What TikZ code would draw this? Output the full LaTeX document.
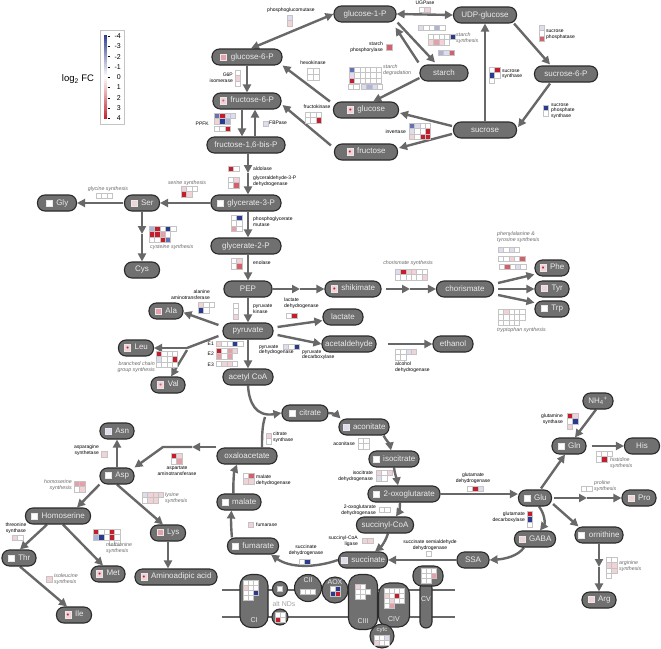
\documentclass[tikz,border=0pt]{standalone}
\usepackage{fontspec}
\setmainfont{Liberation Sans}
\usetikzlibrary{arrows.meta,calc}
\pgfdeclarelayer{bg}
\pgfsetlayers{bg,main}
\definecolor{nodefill}{HTML}{707070}
\definecolor{nodeline}{HTML}{2B2B2B}
\definecolor{arr}{HTML}{686868}
\definecolor{gridc}{HTML}{C4C4C4}
\definecolor{mkb}{HTML}{E8E8E8}
\definecolor{r1}{HTML}{F1D2D7}
\definecolor{r2}{HTML}{E4A1AA}
\definecolor{r3}{HTML}{D5606C}
\definecolor{r4}{HTML}{C41E2C}
\definecolor{b1}{HTML}{DCDDEE}
\definecolor{b2}{HTML}{AEB3D8}
\definecolor{b3}{HTML}{6670B3}
\definecolor{b4}{HTML}{2A3A8F}
\definecolor{itc}{HTML}{6A6A6A}
\newcommand\mk[1]{{\setlength{\fboxsep}{0pt}\setlength{\fboxrule}{1pt}\raisebox{-0.5pt}{\fcolorbox{mkb}{#1}{\rule{0pt}{5pt}\rule{5pt}{0pt}}}}\hspace{3.5pt}}
\newcommand\md[2]{{\setlength{\fboxsep}{0pt}\setlength{\fboxrule}{1pt}\raisebox{-0.5pt}{\fcolorbox{mkb}{#1}{\makebox[5pt][c]{\rule{0pt}{5pt}\raisebox{-0.4pt}{\textcolor{#2}{\fontsize{7.5}{7.5}\selectfont\textbullet}}}}}}\hspace{3.5pt}}
\newcommand\hm[4][5.4]{%
  \foreach \rw [count=\jj] in {#4}{%
    \foreach \cc [count=\ii] in \rw {%
      \path[hc/\cc] ({#2+(\ii-1)*#1},{#3+(\jj-1)*#1}) rectangle ++(#1,#1);
    }}}
\tikzset{
  metab/.style={rounded corners=7.5pt, fill=nodefill, draw=nodeline, line width=1.1pt, minimum height=16pt, inner sep=1pt, text=white!92!black, font=\fontsize{8}{9}\selectfont},
  ar/.style={draw=arr, line width=2.4pt, -{Triangle[length=8pt,width=8pt]}},
  arb/.style={draw=arr, line width=2.4pt, {Triangle[length=8pt,width=8pt]}-{Triangle[length=8pt,width=8pt]}},
  ln/.style={draw=arr, line width=2.4pt},
  hcell/.style={draw=gridc, line width=0.5pt},
  hc/w/.style={hcell, fill=white},
  hc/r1/.style={hcell, fill=r1},
  hc/r2/.style={hcell, fill=r2},
  hc/r3/.style={hcell, fill=r3},
  hc/r4/.style={hcell, fill=r4},
  hc/b1/.style={hcell, fill=b1},
  hc/b2/.style={hcell, fill=b2},
  hc/b3/.style={hcell, fill=b3},
  hc/b4/.style={hcell, fill=b4},
  hc/n/.style={},
  lab/.style={font=\fontsize{5}{5.6}\selectfont, inner sep=0},
  itl/.style={font=\fontsize{5.3}{6}\selectfont\itshape, text=itc, inner sep=0},
  cpx/.style={fill=nodefill, draw=nodeline, line width=1.1pt, inner sep=0},
  ctext/.style={text=white!92!black, font=\fontsize{7}{7}\selectfont, inner sep=0},
}
\begin{document}
\begin{tikzpicture}[x=1pt,y=-1pt]
\begin{pgfonlayer}{bg}
\fill[white] (0,0) rectangle (661,648);
\end{pgfonlayer}
\useasboundingbox (0,0) rectangle (661,648);

% legend
\draw[gridc, line width=0.6pt] (100,30) rectangle (124,124);
\foreach \k in {0,...,19}{\pgfmathtruncatemacro\pc{100*(19.5-\k)/20}\fill[b4!\pc!white] (103.5,{35+\k*2.1}) rectangle ++(3.5,2.2);}
\foreach \k in {20,...,39}{\pgfmathtruncatemacro\pc{100*(\k-19.5)/20}\fill[r4!\pc!white] (103.5,{35+\k*2.1}) rectangle ++(3.5,2.2);}
\foreach \v [count=\i from 0] in {-4,-3,-2,-1,0,1,2,3,4}{
  \draw[black, line width=0.4pt] (107.5,{36+\i*10.3}) -- ++(2,0);
  \node[anchor=east, font=\fontsize{7}{7}\selectfont, inner sep=0] (tk\i) at (121,{36+\i*10.3}) {\v};}
\node[font=\fontsize{9.5}{10}\selectfont, inner sep=0] (lfc) at (78,79) {log\textsubscript{2} FC};

% metabolites
\node[metab,minimum width=62] (g1p) at (365,14) {glucose-1-P};
\node[metab,minimum width=63] (udpg) at (485,15) {UDP-glucose};
\node[metab,minimum width=70] (g6p) at (247,57) {\mk{r2}glucose-6-P};
\node[metab,minimum width=48] (starch) at (444,73) {starch};
\node[metab,minimum width=63] (s6p) at (566,74) {sucrose-6-P};
\node[metab,minimum width=68] (f6p) at (247,101) {\md{r1}{r3}fructose-6-P};
\node[metab,minimum width=65] (glc) at (366,110) {\md{r1}{r4}glucose};
\node[metab,minimum width=63] (suc) at (485,130) {sucrose};
\node[metab,minimum width=78] (f16bp) at (246,145) {fructose-1,6-bis-P};
\node[metab,minimum width=63] (fru) at (366,152) {\md{r1}{r4}fructose};
\node[metab,minimum width=70] (g3p) at (246,203) {\mk{white}glycerate-3-P};
\node[metab,minimum width=39] (gly) at (57,203) {\mk{white}Gly};
\node[metab,minimum width=35] (ser) at (142,203) {\mk{r1}Ser};
\node[metab,minimum width=35] (cys) at (142,270) {Cys};
\node[metab,minimum width=70] (g2p) at (246,246) {glycerate-2-P};
\node[metab,minimum width=48] (pep) at (248,289) {PEP};
\node[metab,minimum width=56] (shik) at (353,289) {\md{r1}{r4}shikimate};
\node[metab,minimum width=57] (chor) at (465,289) {chorismate};
\node[metab,minimum width=34] (phe) at (552,268) {\md{r1}{r4}Phe};
\node[metab,minimum width=34] (tyr) at (552,289) {\mk{r1}Tyr};
\node[metab,minimum width=34] (trp) at (552,309) {\mk{white}Trp};
\node[metab,minimum width=34] (ala) at (166,311) {\mk{r2}Ala};
\node[metab,minimum width=40] (lac) at (343,317) {lactate};
\node[metab,minimum width=50] (pyr) at (248,331) {pyruvate};
\node[metab,minimum width=35] (leu) at (136,348) {\md{r1}{r4}Leu};
\node[metab,minimum width=54] (acald) at (349,344) {acetaldehyde};
\node[metab,minimum width=40] (eth) at (453,344) {ethanol};
\node[metab,minimum width=50] (acoa) at (248,377) {acetyl CoA};
\node[metab,minimum width=34] (val) at (168,385) {\md{r1}{r3}Val};
\node[metab,minimum width=46] (cit) at (305,413) {\mk{white}citrate};
\node[metab,minimum width=50] (aco) at (364,427) {\mk{b1}aconitate};
\node[metab,minimum width=30] (nh4) at (598,401) {NH\textsubscript{4}\textsuperscript{+}};
\node[metab,minimum width=34] (asn) at (117,431) {\mk{b1}Asn};
\node[metab,minimum width=60] (oaa) at (247,456) {oxaloacetate};
\node[metab,minimum width=50] (iso) at (394,459) {\mk{white}isocitrate};
\node[metab,minimum width=34] (gln) at (569,446) {\mk{white}Gln};
\node[metab,minimum width=35] (his) at (642,446) {His};
\node[metab,minimum width=34] (asp) at (117,476) {\mk{white}Asp};
\node[metab,minimum width=72] (og) at (404,494) {\mk{white}2-oxoglutarate};
\node[metab,minimum width=33] (glu) at (535,498) {\mk{white}Glu};
\node[metab,minimum width=34] (pro) at (639,498) {\mk{r1}Pro};
\node[metab,minimum width=65] (hse) at (58,516) {\mk{white}Homoserine};
\node[metab,minimum width=35] (lys) at (168,533) {\mk{r2}Lys};
\node[metab,minimum width=44] (mal) at (239,502) {\mk{white}malate};
\node[metab,minimum width=57] (scoa) at (385,525) {succinyl-CoA};
\node[metab,minimum width=41] (gaba) at (535,539) {\mk{r1}GABA};
\node[metab,minimum width=48] (orn) at (599,535) {\mk{white}ornithine};
\node[metab,minimum width=34] (thr) at (19,558) {\mk{white}Thr};
\node[metab,minimum width=34] (metn) at (108,574) {\md{r1}{r4}Met};
\node[metab,minimum width=82] (aad) at (176,577) {\md{r1}{r4}Aminoadipic acid};
\node[metab,minimum width=51] (fum) at (253,546) {\mk{white}fumarate};
\node[metab,minimum width=32] (ssa) at (473,560) {SSA};
\node[metab,minimum width=49] (succ) at (363,560) {\mk{b1}succinate};
\node[metab,minimum width=35] (ile) at (74,615) {\md{r1}{r4}Ile};
\node[metab,minimum width=34] (arg) at (599,600) {\mk{r1}Arg};

% connectors
\begin{pgfonlayer}{bg}
\draw[arb] (g1p.west) -- (g6p.65);
\draw[arb] (g1p.east) -- (udpg.west);
\draw[ar] ($(g1p.south east)+(1,0)$) -- ($(starch.north)+(-9,-2)$);
\draw[ar] ($(starch.north west)+(-1,-2)$) -- ($(g1p.south east)+(-1,5)$);
\draw[ar] ($(starch.west)+(0,5)$) -- (glc.50);
\draw[ar] ($(udpg.south east)+(-3,0)$) -- ($(s6p.north)+(-16,-1)$);
\draw[ar] ($(s6p.south)+(-16,1)$) -- ($(suc.east)+(1,-3)$);
\draw[ar] (suc.north) -- (udpg.south);
\draw[ar] ($(suc.west)+(-1,-4)$) -- ($(glc.east)+(1,3)$);
\draw[ar] ($(suc.west)+(-1,4)$) -- ($(fru.east)+(1,-4)$);
\draw[ar] ($(glc.north west)+(-3,0)$) -- (g6p.south east);
\draw[ar] ($(fru.north west)+(-3,2)$) -- ($(f6p.east)+(1,4)$);
\draw[ar] (g6p.south) -- (f6p.north);
\draw[ar] ($(f6p.south)+(-5,0)$) -- ($(f16bp.north)+(-4,0)$);
\draw[ar] ($(f16bp.north)+(9,0)$) -- ($(f6p.south)+(8,0)$);
\coordinate (m1) at (248,173);
\draw[ar] ($(f16bp.south)+(2,0)$) -- (m1);
\draw[ar] (m1) -- ($(g3p.north)+(2,0)$);
\draw[ar] ($(g3p.south)+(2,0)$) -- ($(g2p.north)+(2,0)$);
\draw[ar] ($(g2p.south)+(2,0)$) -- (pep.north);
\coordinate (m2) at (300,289);
\draw[ar] (pep.east) -- (m2);
\draw[ar] (m2) -- (shik.west);
\coordinate (m3) at (410,289);
\draw[ar] ($(shik.east)+(4,0)$) -- (m3);
\draw[ar] (m3) -- (chor.west);
\draw[ar] ($(chor.east)+(4,-6)$) -- (phe.200);
\draw[ar] ($(chor.east)+(4,0)$) -- (tyr.west);
\draw[ar] ($(chor.east)+(4,6)$) -- (trp.160);
\draw[ar] (pep.south) -- (pyr.north);
\draw[ar] ($(pyr.east)+(4,-4)$) -- (lac.190);
\draw[ar] ($(pyr.east)+(4,4)$) -- (acald.west);
\draw[ar] ($(acald.east)+(11,0)$) -- (eth.west);
\draw[ar] (pyr.south) -- (acoa.north);
\draw[ar] ($(pyr.west)+(-4,-6)$) -- (ala.-5);
\coordinate (bp) at (187,348);
\draw[ln] ($(pyr.west)+(-4,5)$) -- (bp);
\draw[ar] (bp) -- (leu.east);
\draw[ar] ($(bp)+(0,2)$) -- (val.70);
\draw[ar] (g3p.west) -- (ser.east);
\draw[ar] ($(ser.west)+(-1,0)$) -- (gly.east);
\coordinate (m4) at (142,234);
\draw[ar] (ser.south) -- (m4);
\draw[ar] (m4) -- (cys.north);
% TCA
\draw[ar] (acoa.south) .. controls (249,403) and (256,417) .. (cit.west);
\coordinate (j1) at (265,417);
\draw[ln] ($(oaa.north)+(15,0)$) .. controls (262,438) and (262,426) .. (j1);
\draw[ar] (cit.east) .. controls (334,413) and (338,416) .. (aco.160);
\draw[ar] ($(aco.south east)+(-6,0)$) .. controls (386,440) and (390,445) .. ($(iso.north)+(-3,0)$);
\draw[ar] (iso.south) .. controls (395,475) and (397,480) .. ($(og.north)+(-6,0)$);
\draw[ar] ($(og.south)+(-4,0)$) .. controls (400,508) and (399,512) .. ($(scoa.north)+(11,0)$);
\draw[ar] ($(scoa.south)+(3,0)$) .. controls (386,540) and (382,546) .. ($(succ.north)+(12,0)$);
\draw[ar] (succ.west) .. controls (315,568) and (290,568) .. ($(fum.south east)+(-8,0)$);
\draw[ar] ($(fum.north west)+(5,0)$) .. controls (231,528) and (231,518) .. ($(mal.south west)+(15,0)$);
\draw[ar] ($(mal.north west)+(17,0)$) .. controls (233,485) and (234,472) .. ($(oaa.south)+(-10,0)$);
% nitrogen
\draw[ar] (og.east) -- (og.east -| glu.west);
\draw[ar] ($(glu.north)+(6,-1)$) -- ($(gln.south)+(-4,0)$);
\draw[ar] ($(nh4.south)+(-2,0)$) -- (gln.55);
\draw[ar] ($(gln.east)+(5,0)$) -- (his.west);
\coordinate (m5) at (587,498);
\draw[ar] ($(glu.east)+(2,0)$) -- (m5);
\draw[ar] (m5) -- (pro.west);
\draw[ar] ($(glu.east)+(1,6)$) -- ($(orn.north west)+(4,0)$);
\coordinate (m6) at (599,567);
\draw[ar] (orn.south) -- (m6);
\draw[ar] (m6) -- (arg.north);
\draw[ar] ($(glu.south)+(4,0)$) .. controls (545,514) and (545,524) .. ($(gaba.north)+(5,0)$);
\draw[ar] ($(gaba.south west)+(10,0)$) .. controls (518,556) and (505,559) .. (ssa.east);
\draw[ar] (ssa.west) -- (succ.east);
\coordinate (m7) at (192,447);
\coordinate (m8) at (163,447);
\draw[ar] (oaa.north west |- m7) -- (m7);
\draw[ar] (m7) -- (m8) -- (asp.north east);
\draw[ar] (asp.north) -- (asn.south);
\draw[ar] (asp.south west) -- ($(hse.north)+(19,0)$);
\draw[ar] (asp.south) -- ($(lys.north)+(-5,0)$);
\draw[ar] (lys.south) -- (lys.south |- aad.north);
\draw[ar] ($(hse.south)+(-11,0)$) -- ($(thr.north)+(1,0)$);
\draw[ar] ($(hse.south)+(5,0)$) -- ($(metn.north)+(-5,0)$);
\draw[ar] ($(thr.south)+(1,0)$) -- ($(ile.north)+(-7,0)$);
\end{pgfonlayer}

% heatmaps
\hm{287}{15}{b1,r1}
\hm{419}{7}{{w,r1}}
\hm{418}{25}{{b1,w,w,b2,w}}
\hm{428}{34}{{w,w,w,w},{r1,r2,r1,w}}
\hm{450}{34}{b4}
\hm{438}{50}{{b2,b1,r3}}
\hm[6]{386}{44}{r3}
\hm{349}{67}{{b3,w,w,w,w,w},{b1,w,w,w,w,w},{r4,w,w,w,w,w}}
\hm{348}{84}{{w,w}}
\hm{361}{84}{{b1,b2,b1,w}}
\hm[6]{307}{68}{{w,w},{w,w}}
\hm{235}{70}{w,r1,w}
\hm{305}{112}{{w,w,w},{w,w,r4}}
\hm{409}{123}{{b3,b1,w,w},{b1,w,w,r4},{r1,w,r4,r4}}
\hm{214}{113}{{b3,r4,b1,b1},{r1,b4,b2,n}}
\hm{214}{126}{{w,w,r4}}
\hm{263}{121}{b1}
\hm{228}{166}{{r4,w}}
\hm{228}{177}{{w,r1},{w,r3}}
\hm{231}{215}{{w,b4},{w,w},{r2,w}}
\hm{231}{258}{{w,r1},{w,r3}}
\hm{181}{186}{{r1,w,w},{r4,r1,n}}
\hm{96}{193}{{w,w,w}}
\hm{149}{226}{{b2,r4,w,b4,w},{r4,r4,r2,w,n},{w,w,r4,b3,n}}
\hm{198}{302}{{r1,w,w},{b4,w,n}}
\hm{156}{351}{{r4,w,w,w},{b1,w,w,r4},{w,w,w,w}}
\hm{216}{341}{{r1,w,w,b4,w}}
\hm{216}{348}{{r4,w,r2,r1},{r2,w,r2,n}}
\hm{216}{361}{{w,r1,r1,w}}
\hm{233}{303}{w,w,r1}
\hm{286}{313}{{w,r4}}
\hm{283}{344}{{b1,w,b4}}
\hm{395}{269}{{b1,r4,r1,r1,w,w},{w,w,w,w,w,r1}}
\hm{498}{247}{{b1,w,b1,w}}
\hm{498}{256}{{w,w,r1,w,r3}}
\hm{499}{264}{{w,r3,w,b1,w}}
\hm{498}{309}{{w,r1,w,w,w},{w,w,w,w,w},{w,w,w,w,n}}
\hm{395}{349}{{w,w,b1,r1},{w,w,n,n}}
\hm{567}{413}{{r4,r1},{w,b4},{r1,n}}
\hm{596}{451}{{w,w,w},{w,r4,n}}
\hm{467}{486}{{w,r4,b1}}
\hm{581}{486}{{w,w}}
\hm{527}{511}{r4,b4,w}
\hm{606}{557}{{w,w},{r1,r1},{w,r1},{w,n}}
\hm{426}{551}{w}
\hm{299}{559}{{w,b4}}
\hm{362}{538}{{r1,r1}}
\hm{379}{507}{{w,w}}
\hm{248}{522}{r1}
\hm{243}{473}{{w,r3},{r1,r1}}
\hm{376}{470}{{r1,w,r1},{b1,w,n}}
\hm{358}{438}{{w,w},{w,w}}
\hm{266}{433}{r1,w}
\hm[6]{101}{451}{r1}
\hm{171}{453}{{r4,r1},{w,r2}}
\hm{74}{481}{{r2,r2},{w,r1}}
\hm{142}{492}{{b1,r1,r1,r1},{w,r1,r1,n}}
\hm{12}{535}{{r1,w}}
\hm{93}{529}{{r4,w,w,r4,w},{b2,b4,w,r4,w},{n,n,n,w,w}}
\hm[6]{46}{576}{r1}
\hm{539}{25}{b1,w,r3}
\hm{489}{67}{{w,r4},{b4,w},{w,n}}
\hm{543}{105}{b4,w}

% enzyme labels
\node[lab] (l1) at (291,10) {phosphoglucomutase};
\node[lab] (l2) at (425,3) {UGPase};
\node[itl,anchor=west,align=left] (l3) at (456,38.5) {starch\\synthesis};
\node[lab,anchor=east,align=right] (l4) at (383,47) {starch\\phosphorylase};
\node[itl,anchor=west,align=left] (l5) at (383,70) {starch\\degradation};
\node[lab] (l6) at (313,63) {hexokinase};
\node[lab,anchor=east,align=right] (l7) at (233,78) {G6P\\isomerase};
\node[lab] (l8) at (317,107) {fructokinase};
\node[lab,anchor=east] (l9) at (406,132) {invertase};
\node[lab,anchor=east] (l10) at (209,124) {PPFK};
\node[lab,anchor=west] (l11) at (269,123) {FBPase};
\node[lab,anchor=west] (l12) at (253,169) {aldolase};
\node[lab,anchor=west,align=left] (l13) at (253,181) {glyceraldehyde-3-P\\dehydrogenase};
\node[lab,anchor=west,align=left] (l14) at (253,222) {phosphoglycerate\\mutase};
\node[lab,anchor=west] (l15) at (253,263) {enolase};
\node[lab,anchor=west,align=left] (l16) at (253,309) {pyruvate\\kinase};
\node[lab,anchor=west,align=left] (l17) at (284,303) {lactate\\dehydrogenase};
\node[lab,anchor=west,align=left] (l18) at (302,355) {pyruvate\\decarboxylase};
\node[lab,anchor=west,align=left] (l19) at (259,350) {pyruvate\\dehydrogenase};
\node[lab,anchor=east] (l20a) at (214,344) {E1};
\node[lab,anchor=east] (l20b) at (214,354) {E2};
\node[lab,anchor=east] (l20c) at (214,365) {E3};
\node[lab,anchor=west,align=left] (l21) at (395,367) {alcohol\\dehydrogenase};
\node[itl] (l22) at (408,263) {chorismate synthesis};
\node[itl,anchor=west,align=left] (l23) at (497,237) {phenylalanine \&\\tyrosine synthesis};
\node[itl,anchor=west] (l24) at (497,330) {tryptophan synthesis};
\node[itl,anchor=west] (l25) at (150,247) {cysteine synthesis};
\node[itl] (l26) at (187,183) {serine synthesis};
\node[itl] (l27) at (108,189) {glycine synthesis};
\node[lab,anchor=east,align=right] (l28) at (210,294.5) {alanine\\aminotransferase};
\node[itl,anchor=east,align=right] (l29) at (155,367) {branched chain\\group synthesis};
\node[lab,anchor=east,align=right] (l30) at (563,419) {glutamine\\synthase};
\node[itl,anchor=west,align=left] (l31) at (610,463) {histidine\\synthesis};
\node[lab,align=center] (l32) at (473,478) {glutamate\\dehydrogenase};
\node[itl,anchor=west,align=left] (l33) at (594,486) {proline\\synthesis};
\node[lab,anchor=east,align=right] (l34) at (525,517) {glutamate\\decarboxylase};
\node[itl,anchor=west,align=left] (l35) at (619,566) {arginine\\synthesis};
\node[lab,align=center] (l36) at (430,545) {succinate semialdehyde\\dehydrogenase};
\node[lab,align=center] (l37) at (306,550) {succinate\\dehydrogenase};
\node[lab,anchor=east,align=right] (l38) at (358,541) {succinyl-CoA\\ligase};
\node[lab,anchor=east,align=right] (l39) at (376,510) {2-oxoglutarate\\dehydrogenase};
\node[lab,anchor=west] (l40) at (256,525) {fumarase};
\node[lab,anchor=west,align=left] (l41) at (256,480) {malate\\dehydrogenase};
\node[lab,anchor=east,align=right] (l42) at (373,476) {isocitrate\\dehydrogenase};
\node[lab,anchor=east] (l43) at (355,444) {aconitase};
\node[lab,anchor=west,align=left] (l44) at (273,437) {citrate\\synthase};
\node[lab,anchor=east,align=right] (l45) at (99,450) {asparagine\\synthetase};
\node[lab,align=center] (l46) at (177,471) {aspartate\\aminotransferase};
\node[itl,anchor=east,align=right] (l47) at (72,485) {homoserine\\synthesis};
\node[itl,anchor=west,align=left] (l48) at (165,498) {lysine\\synthesis};
\node[lab,align=center] (l49) at (16,528) {threonine\\synthase};
\node[itl,anchor=west,align=left] (l50) at (106,548) {methionine\\synthesis};
\node[itl,anchor=west,align=left] (l51) at (54,579) {isoleucine\\synthesis};
\node[lab,anchor=west,align=left] (l52) at (546,34.5) {sucrose\\phosphatase};
\node[lab,anchor=west,align=left] (l53) at (502,74) {sucrose\\synthase};
\node[lab,anchor=west,align=left] (l54) at (551,111) {sucrose\\phosphate\\synthase};

% mitochondrial membrane and complexes
\draw[arr, line width=1.8pt] (222,590) -- (455,590);
\draw[arr, line width=1.8pt] (222,617) -- (455,617);
\node[cpx,minimum width=28,minimum height=53,rounded corners=11] (ci) at (254,601) {};
\node[cpx,circle,minimum size=15] (nd1) at (280,589) {};
\node[cpx,circle,minimum size=16] (nd2) at (280,617) {};
\node[cpx,circle,minimum size=27] (cii) at (308,588) {};
\node[cpx,circle,minimum size=26] (aox) at (335,590) {};
\node[cpx,minimum width=29,minimum height=55,rounded corners=11] (ciii) at (363,602) {};
\node[cpx,minimum width=31,minimum height=44,rounded corners=11] (civ) at (394,605) {};
\node[cpx,circle,minimum size=24] (cytc) at (382,636) {};
\node[cpx,minimum width=12,minimum height=46,rounded corners=6] (cvs) at (426,605) {};
\node[cpx,minimum width=30,minimum height=20,rounded corners=9] (cvh) at (428,576) {};
\node[ctext] (tci) at (254,620) {CI};
\node[ctext] (tcii) at (308,580.5) {CII};
\node[ctext] (taox) at (335,582) {AOX};
\node[ctext] (tciii) at (363,621) {CIII};
\node[ctext] (tciv) at (394,619) {CIV};
\node[ctext,font=\fontsize{6}{6}\selectfont] (tcyt) at (382,630) {cytc};
\node[ctext] (tcv) at (426,599) {CV};
\node[inner sep=0, text=gray!70, font=\fontsize{7}{7}\selectfont] (tnd) at (284,604) {alt NDs};
\hm[5]{243}{580}{{w,w,w},{r1,w,w},{w,w,b4},{w,w,n}}
\hm[5]{277.5}{586.5}{w}
\hm[5]{275}{612}{{w,w},{r4,w}}
\hm[5]{300.5}{589}{{w,w,w}}
\hm[5]{330}{586}{{w,b4},{b4,r4}}
\hm[5]{355.5}{584}{{r1,w,n},{w,w,w},{w,w,n}}
\hm[5]{384}{588}{{w,w,w,w},{r1,w,r4,w},{w,r1,w,w},{w,r2,n,n}}
\hm[5]{374.5}{635}{{w,w,b1},{r1,w,w}}
\hm[5]{421}{568}{{w,w,w},{w,w,r2},{w,w,n}}
\end{tikzpicture}
\end{document}
